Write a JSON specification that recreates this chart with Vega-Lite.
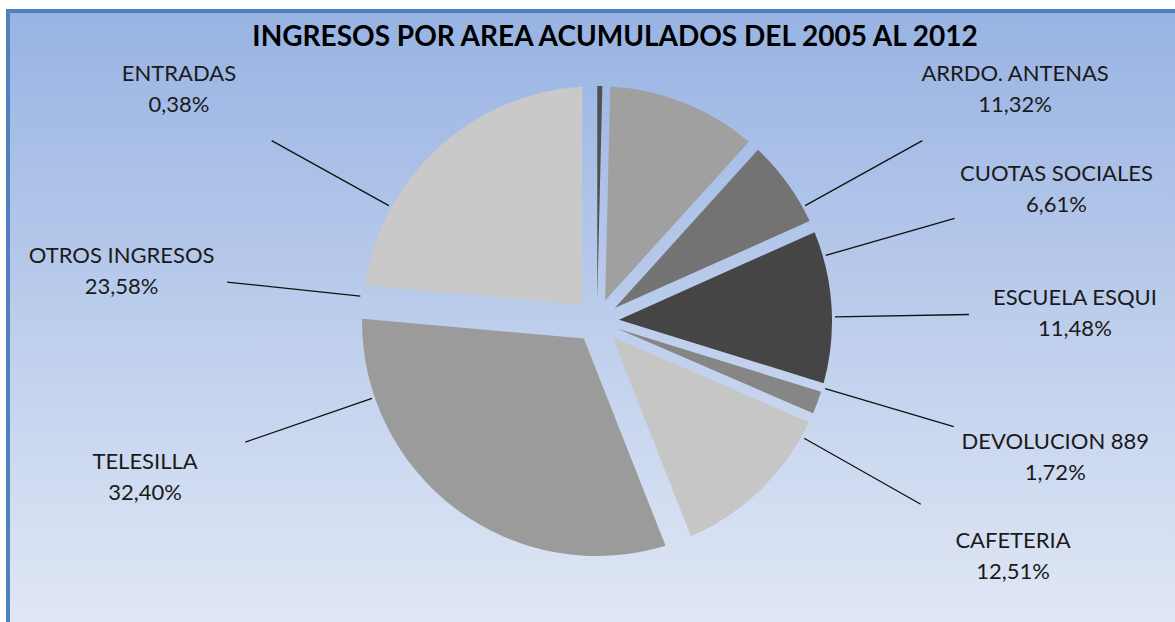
{
  "$schema": "https://vega.github.io/schema/vega-lite/v6.json",
  "autosize": "none",
  "width": 1178,
  "height": 620,
  "padding": {"left": 8, "top": 11, "right": -11, "bottom": -9},
  "background": "white",
  "config": {
    "view": {"stroke": null},
    "locale": {"number": {"decimal": ",", "thousands": ".", "grouping": [3], "currency": ["", " €"]}}
  },
  "title": {
    "text": "INGRESOS POR AREA ACUMULADOS DEL 2005 AL 2012",
    "font": "Lato",
    "fontSize": 28,
    "fontWeight": "bold",
    "color": "#000000",
    "anchor": "middle",
    "frame": "group",
    "offset": -43,
    "dx": 18
  },
  "datasets": {
    "ingresos": [
      {"categoria": "ENTRADAS", "valor": 0.0038, "orden": 1},
      {"categoria": "ARRDO. ANTENAS", "valor": 0.1132, "orden": 2},
      {"categoria": "CUOTAS SOCIALES", "valor": 0.0661, "orden": 3},
      {"categoria": "ESCUELA ESQUI", "valor": 0.1148, "orden": 4},
      {"categoria": "DEVOLUCION 889", "valor": 0.0172, "orden": 5},
      {"categoria": "CAFETERIA", "valor": 0.1251, "orden": 6},
      {"categoria": "TELESILLA", "valor": 0.3240, "orden": 7},
      {"categoria": "OTROS INGRESOS", "valor": 0.2358, "orden": 8}
    ]
  },
  "layer": [
    {
      "data": {"values": [{}]},
      "mark": {
        "type": "rect",
        "fill": {"gradient": "linear", "x1": 0, "y1": 0, "x2": 0, "y2": 1,
          "stops": [{"offset": 0, "color": "#98b3e3"}, {"offset": 1, "color": "#e1e8f5"}]},
        "stroke": "#4f81bd",
        "strokeWidth": 4
      },
      "encoding": {}
    },
    {
      "data": {"name": "ingresos"},
      "mark": {"type": "arc", "radius": 235, "radius2": 22,
        "padAngle": {"expr": "2*asin(0.0932*sin(PI*datum.valor))"}},
      "encoding": {
        "theta": {"field": "valor", "type": "quantitative", "stack": true},
        "order": {"field": "orden", "type": "quantitative"},
        "color": {
          "field": "categoria", "type": "nominal", "legend": null,
          "scale": {
            "domain": ["ENTRADAS", "ARRDO. ANTENAS", "CUOTAS SOCIALES", "ESCUELA ESQUI", "DEVOLUCION 889", "CAFETERIA", "TELESILLA", "OTROS INGRESOS"],
            "range": ["#505050", "#a0a0a0", "#737373", "#454545", "#868686", "#c6c6c6", "#9b9b9b", "#c9c9c9"]
          }
        }
      }
    },
    {
      "data": {"name": "ingresos"},
      "mark": {"type": "arc", "radius": 372, "radius2": 238, "padAngle": 3.1416,
        "stroke": "#111111", "strokeWidth": 1.3, "fillOpacity": 0},
      "encoding": {
        "theta": {"field": "valor", "type": "quantitative", "stack": true,
          "scale": {"type": "linear", "zero": false, "nice": false,
            "domain": [0, 0.0038, 0.117, 0.1831, 0.2979, 0.3151, 0.4402, 0.7642, 1],
            "range": [-2.0420, -0.0873, 2.2166, 0.3665, 2.7402, 0.9774, 3.1940, 5.5676, 4.0666]}},
        "order": {"field": "orden", "type": "quantitative"}
      }
    },
    {
      "data": {"name": "ingresos"},
      "mark": {"type": "text", "radius": 478, "dy": -15, "font": "Lato", "fontSize": 22,
        "fill": "#1a1a1a", "align": "center", "baseline": "middle"},
      "encoding": {
        "theta": {"field": "valor", "type": "quantitative", "stack": true,
          "scale": {"type": "linear", "zero": false, "nice": false,
            "domain": [0, 0.0038, 0.117, 0.1831, 0.2979, 0.3151, 0.4402, 0.7642, 1],
            "range": [-2.0420, -0.0873, 2.2166, 0.3665, 2.7402, 0.9774, 3.1940, 5.5676, 4.0666]}},
        "order": {"field": "orden", "type": "quantitative"},
        "text": {"field": "categoria", "type": "nominal"}
      }
    },
    {
      "data": {"name": "ingresos"},
      "mark": {"type": "text", "radius": 478, "dy": 16, "font": "Lato", "fontSize": 22,
        "fill": "#1a1a1a", "align": "center", "baseline": "middle"},
      "encoding": {
        "theta": {"field": "valor", "type": "quantitative", "stack": true,
          "scale": {"type": "linear", "zero": false, "nice": false,
            "domain": [0, 0.0038, 0.117, 0.1831, 0.2979, 0.3151, 0.4402, 0.7642, 1],
            "range": [-2.0420, -0.0873, 2.2166, 0.3665, 2.7402, 0.9774, 3.1940, 5.5676, 4.0666]}},
        "order": {"field": "orden", "type": "quantitative"},
        "text": {"field": "valor", "type": "quantitative", "format": ".2%"}
      }
    }
  ],
  "resolve": {"scale": {"theta": "independent"}}
}
